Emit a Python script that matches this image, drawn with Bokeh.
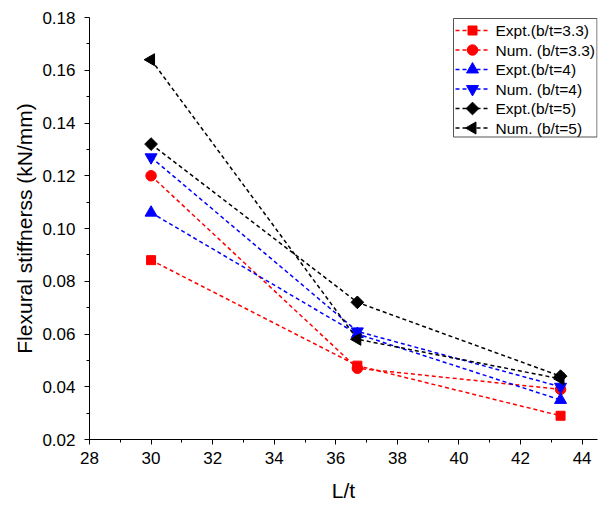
import numpy as np
from bokeh.plotting import figure
from bokeh.models import Range1d, FixedTicker, NumeralTickFormatter, Label
from bokeh.embed import file_html
from bokeh.resources import INLINE

# Data
lt = [30.0, 36.7, 43.3]
expt_33 = [0.088, 0.048, 0.029]
num_33 = [0.120, 0.047, 0.039]
expt_4 = [0.106, 0.060, 0.035]
num_4 = [0.127, 0.061, 0.040]
expt_5 = [0.132, 0.072, 0.044]
num_5 = [0.164, 0.058, 0.043]

labels = ["Expt.(b/t=3.3)", "Num. (b/t=3.3)", "Expt.(b/t=4)",
          "Num. (b/t=4)", "Expt.(b/t=5)", "Num. (b/t=5)"]
values = [expt_33, num_33, expt_4, num_4, expt_5, num_5]

x_ticks = [28, 30, 32, 34, 36, 38, 40, 42, 44]
x_minor = [29, 31, 33, 35, 37, 39, 41, 43]
y_ticks = [0.02, 0.04, 0.06, 0.08, 0.10, 0.12, 0.14, 0.16, 0.18]
y_minor = [0.03, 0.05, 0.07, 0.09, 0.11, 0.13, 0.15, 0.17]
x_title = "L/t"
y_title = "Flexural stiffnerss (kN/mm)"

# styles
colors = ["red", "red", "blue", "blue", "black", "black"]
markers = ["square", "circle", "triangle", "inverted_triangle", "square", "triangle"]
angles = [0.0, 0.0, 0.0, 0.0, np.pi / 4, np.pi / 2]
sizes = [9, 10.5, 12, 12, 9, 12]

X0, X1, Y0, Y1 = 28.0, 44.5, 0.02, 0.18
W, H = 603, 505
BL, BR, BT, BB = 89, 6, 17, 66
FW, FH = W - BL - BR, H - BT - BB

def px2x(px):
    return X0 + (px - BL) * (X1 - X0) / FW

def px2y(py):
    return Y0 + (BT + FH - py) * (Y1 - Y0) / FH

p = figure(width=W, height=H, output_backend="svg", toolbar_location=None,
           x_range=Range1d(X0, X1), y_range=Range1d(Y0, Y1),
           min_border_left=BL, min_border_right=BR, min_border_top=BT, min_border_bottom=BB)
p.outline_line_color = None
p.xgrid.visible = False
p.ygrid.visible = False

# legend box (drawn first, beneath everything)
p.quad(left=[px2x(453)], right=[px2x(596.5)], top=[px2y(18)], bottom=[px2y(136.5)],
       fill_color="white", line_color="#555555", line_width=1)

for ys, color, marker, angle, size in zip(values, colors, markers, angles, sizes):
    p.line(lt, ys, line_color=color, line_width=1.5, line_dash="4 3")
    p.scatter(lt, ys, marker=marker, size=size, angle=angle,
              fill_color=color, line_color=color)

# custom legend
for i, (label, color, marker, angle, size) in enumerate(zip(labels, colors, markers, angles, sizes)):
    yc = px2y(30 + 19.5 * i)
    p.segment(x0=[px2x(455)], y0=[yc], x1=[px2x(489)], y1=[yc],
              line_color=color, line_width=1.5, line_dash="4 3")
    p.scatter([px2x(472)], [yc], marker=marker, size=size, angle=angle,
              fill_color=color, line_color=color)
    p.add_layout(Label(x=px2x(495), y=yc, text=label, text_baseline="middle",
                       text_align="left", text_font="Liberation Sans",
                       text_font_size="15.5px", text_color="black"))

for ax in (p.xaxis[0], p.yaxis[0]):
    ax.axis_line_color = "black"
    ax.axis_line_width = 1
    ax.major_tick_line_color = "black"
    ax.minor_tick_line_color = "black"
    ax.major_tick_out = 5
    ax.major_tick_in = 0
    ax.minor_tick_out = 3
    ax.minor_tick_in = 0
    ax.major_label_text_font = "Liberation Sans"
    ax.major_label_text_font_size = "17px"
    ax.major_label_text_color = "black"
    ax.axis_label_text_font = "Liberation Sans"
    ax.axis_label_text_font_size = "21px"
    ax.axis_label_text_font_style = "normal"
    ax.axis_label_text_color = "black"

p.xaxis[0].ticker = FixedTicker(ticks=x_ticks, minor_ticks=x_minor)
p.yaxis[0].ticker = FixedTicker(ticks=y_ticks, minor_ticks=y_minor)
p.yaxis[0].formatter = NumeralTickFormatter(format="0.00")
p.xaxis[0].axis_label = x_title
p.yaxis[0].axis_label = y_title
p.xaxis[0].major_label_text_line_height = 0.9
p.xaxis[0].axis_label_text_line_height = 0.7
p.xaxis[0].major_label_standoff = 7
p.xaxis[0].axis_label_standoff = 12
p.yaxis[0].major_label_standoff = 9
p.yaxis[0].axis_label_standoff = 3

open("out.html", "w").write(file_html(p, INLINE))
